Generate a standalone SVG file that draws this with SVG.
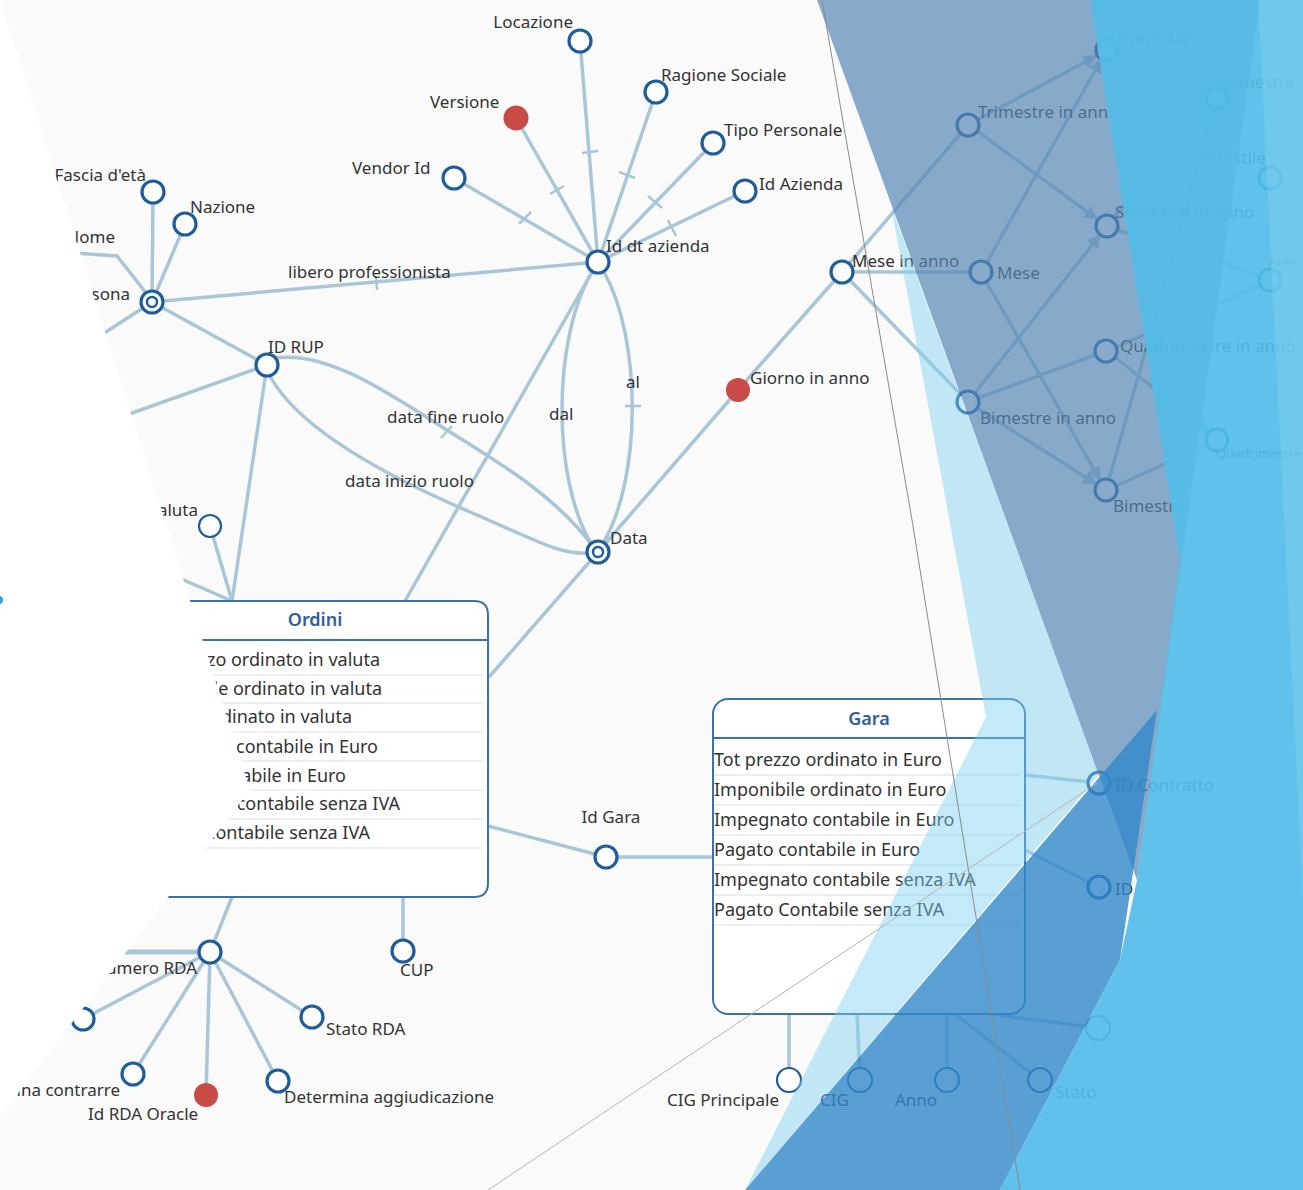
<svg xmlns="http://www.w3.org/2000/svg" width="1303" height="1190" viewBox="0 0 1303 1190">
<style>
.e{fill:none;stroke:#A9C6D8;stroke-width:3.5;stroke-linecap:round}
.tk{stroke:#A9C6D8;stroke-width:2.5}
.n{fill:#fff;stroke:#1F5C9C;stroke-width:3.2}
.r{fill:#C84B47}
.t{font-family:"Noto Sans","Open Sans",sans-serif;font-size:17px;fill:#333}
.row{font-family:"Noto Sans","Open Sans",sans-serif;font-size:18px;fill:#333}
.f{font-family:"Noto Sans","Open Sans",sans-serif;font-size:13px;fill:#333}
.h{font-family:"Noto Sans","Open Sans",sans-serif;font-size:18px;font-weight:600;fill:#2F5E9E}
.box{fill:#fff;stroke:#3A70AE;stroke-width:2}
.sep{stroke:#D6E1EB;stroke-width:1.2}
.hl{stroke:#3A70AE;stroke-width:2}
.a{marker-end:url(#arr)}
</style>
<defs>
<marker id="arr" viewBox="0 0 10 10" refX="9" refY="5" markerWidth="4" markerHeight="4" orient="auto"><path d="M0,0 L10,5 L0,10 z" fill="#A9C6D8"/></marker>
</defs>
<rect x="0" y="0" width="1303" height="1190" fill="#FAFAFA"/>

<g id="connectors">
<line class="e" x1="598" y1="262" x2="580" y2="41"/>
<line class="e" x1="598" y1="262" x2="656" y2="92"/>
<line class="e" x1="598" y1="262" x2="516" y2="118"/>
<line class="e" x1="598" y1="262" x2="713" y2="143"/>
<line class="e" x1="598" y1="262" x2="454" y2="178"/>
<line class="e" x1="598" y1="262" x2="745" y2="191"/>
<line class="e" x1="598" y1="262" x2="152" y2="302"/>
<line class="e" x1="592" y1="272" x2="405" y2="601"/>
<path class="e" d="M592,272 C552,340 552,480 592,545"/>
<path class="e" d="M604,272 C642,340 642,480 602,545"/>
<line class="e" x1="152" y1="302" x2="153" y2="192"/>
<line class="e" x1="152" y1="302" x2="185" y2="224"/>
<polyline class="e" points="60,252 117,256 150,298"/>
<line class="e" x1="152" y1="302" x2="60" y2="362"/>
<line class="e" x1="152" y1="302" x2="267" y2="365"/>
<line class="e" x1="267" y1="365" x2="90" y2="428"/>
<line class="e" x1="267" y1="365" x2="232" y2="601"/>
<path class="e" d="M275,358 C330,350 395,398 450,432 S560,500 594,548"/>
<path class="e" d="M270,376 C300,432 400,482 470,512 S560,555 590,553"/>
<line class="e" x1="210" y1="526" x2="232" y2="601"/>
<line class="e" x1="110" y1="548" x2="232" y2="601"/>
<line class="e" x1="598" y1="552" x2="738" y2="390"/>
<line class="e" x1="738" y1="390" x2="842" y2="272"/>
<line class="e" x1="598" y1="552" x2="490" y2="676"/>
<line class="e" x1="842" y1="272" x2="968" y2="125"/>
<line class="e" x1="842" y1="272" x2="981" y2="272"/>
<line class="e" x1="842" y1="272" x2="968" y2="402"/>
<line class="e a" x1="977" y1="120" x2="1096" y2="56"/>
<line class="e a" x1="977" y1="131" x2="1097" y2="219"/>
<line class="e a" x1="987" y1="262" x2="1101" y2="60"/>
<line class="e a" x1="987" y1="283" x2="1100" y2="480"/>
<line class="e a" x1="975" y1="393" x2="1100" y2="235"/>
<line class="e a" x1="977" y1="408" x2="1096" y2="484"/>
<line class="e" x1="978" y1="398" x2="1095" y2="355"/>
<line class="e a" x1="1117" y1="54" x2="1206" y2="93"/>
<line class="e a" x1="1114" y1="217" x2="1209" y2="107"/>
<line class="e a" x1="1109" y1="479" x2="1214" y2="110"/>
<line class="e a" x1="1116" y1="358" x2="1208" y2="432"/>
<line class="e a" x1="1116" y1="486" x2="1206" y2="445"/>
<line class="e" x1="1117" y1="230" x2="1262" y2="276"/>
<line class="e" x1="1116" y1="347" x2="1262" y2="285"/>
<line class="e" x1="488" y1="826" x2="606" y2="857"/>
<line class="e" x1="606" y1="857" x2="713" y2="857"/>
<line class="e" x1="232" y1="897" x2="210" y2="952"/>
<line class="e" x1="403" y1="897" x2="403" y2="951"/>
<line class="e" x1="120" y1="952" x2="200" y2="952" style="stroke-width:5"/>
<line class="e" x1="210" y1="952" x2="83" y2="1019"/>
<line class="e" x1="210" y1="952" x2="133" y2="1074"/>
<line class="e" x1="210" y1="952" x2="206" y2="1095"/>
<line class="e" x1="210" y1="952" x2="278" y2="1081"/>
<line class="e" x1="210" y1="952" x2="312" y2="1017"/>
<line class="e" x1="789" y1="1014" x2="789" y2="1080"/>
<line class="e" x1="857" y1="1014" x2="860" y2="1080"/>
<line class="e" x1="947" y1="1014" x2="947" y2="1080"/>
<line class="e" x1="955" y1="1014" x2="1040" y2="1080"/>
<line class="e" x1="990" y1="1014" x2="1098" y2="1028"/>
<line class="e" x1="1025" y1="775" x2="1099" y2="783"/>
<line class="e" x1="1025" y1="850" x2="1099" y2="887"/>
<line class="tk" x1="519" y1="224" x2="531" y2="212"/>
<line class="tk" x1="550" y1="194" x2="564" y2="186"/>
<line class="tk" x1="582" y1="153" x2="598" y2="151"/>
<line class="tk" x1="619" y1="172" x2="635" y2="178"/>
<line class="tk" x1="648" y1="196" x2="662" y2="208"/>
<line class="tk" x1="668" y1="220" x2="676" y2="236"/>
<line class="tk" x1="376" y1="276" x2="377" y2="290"/>
<line class="tk" x1="625" y1="406" x2="641" y2="406"/>
<line class="tk" x1="441" y1="438" x2="452" y2="426"/>
</g>

<g id="locazione"><circle class="n" cx="580" cy="41" r="11"/><text class="t" x="573" y="28" text-anchor="end">Locazione</text></g>
<g id="ragione-sociale"><circle class="n" cx="656" cy="92" r="11"/><text class="t" x="661" y="81">Ragione Sociale</text></g>
<g id="versione"><circle class="r" cx="516" cy="118" r="12.5"/><text class="t" x="430" y="108">Versione</text></g>
<g id="tipo-personale"><circle class="n" cx="713" cy="143" r="11"/><text class="t" x="724" y="136">Tipo Personale</text></g>
<g id="vendor-id"><circle class="n" cx="454" cy="178" r="11"/><text class="t" x="352" y="174">Vendor Id</text></g>
<g id="id-azienda"><circle class="n" cx="745" cy="191" r="11"/><text class="t" x="759" y="190">Id Azienda</text></g>
<g id="id-dt-azienda"><circle class="n" cx="598" cy="262" r="11"/><text class="t" x="606" y="252">Id dt azienda</text></g>
<g id="fascia"><circle class="n" cx="153" cy="192" r="11"/><text class="t" x="146" y="181" text-anchor="end">Fascia d'età</text></g>
<g id="nazione"><circle class="n" cx="185" cy="224" r="11"/><text class="t" x="190" y="213">Nazione</text></g>
<g id="nome"><text class="t" x="115" y="243" text-anchor="end">Nome</text></g>
<g id="persona"><circle class="n" cx="152" cy="302" r="11"/><circle class="n" cx="152" cy="302" r="5" style="stroke-width:2.5"/><text class="t" x="130" y="300" text-anchor="end">Persona</text></g>
<g id="lbl-libero"><text class="t" x="288" y="278">libero professionista</text></g>
<g id="id-rup"><circle class="n" cx="267" cy="365" r="11"/><text class="t" x="268" y="353">ID RUP</text></g>
<g id="lbl-ruolo"><text class="t" x="387" y="423">data fine ruolo</text><text class="t" x="345" y="487">data inizio ruolo</text><text class="t" x="549" y="420">dal</text><text class="t" x="626" y="388">al</text></g>
<g id="data"><circle class="n" cx="598" cy="552" r="11"/><circle class="n" cx="598" cy="552" r="5" style="stroke-width:2.5"/><text class="t" x="610" y="544">Data</text></g>
<g id="giorno-in-anno"><circle class="r" cx="738" cy="390" r="12"/><text class="t" x="750" y="384">Giorno in anno</text></g>
<g id="mese-in-anno"><circle class="n" cx="842" cy="272" r="11"/><text class="t" x="852" y="267">Mese in anno</text></g>
<g id="mese"><circle class="n" cx="981" cy="272" r="11"/><text class="t" x="997" y="279">Mese</text></g>
<g id="trimestre-in-anno"><circle class="n" cx="968" cy="125" r="11"/><text class="t" x="978" y="118">Trimestre in anno</text></g>
<g id="trimestre"><circle class="n" cx="1107" cy="50" r="11"/><text class="t" x="1115" y="43">Trimestre</text></g>
<g id="semestre-in-anno"><circle class="n" cx="1107" cy="226" r="11"/><text class="t" x="1115" y="218">Semestre in anno</text></g>
<g id="quadrimestre-in-anno"><circle class="n" cx="1106" cy="351" r="11"/><text class="t" x="1120" y="352">Quadrimestre in anno</text></g>
<g id="bimestre-in-anno"><circle class="n" cx="968" cy="402" r="11"/><text class="t" x="980" y="424">Bimestre in anno</text></g>
<g id="bimestre"><circle class="n" cx="1106" cy="490" r="11"/><text class="t" x="1113" y="512">Bimestre</text></g>
<g id="semestre"><circle class="n" cx="1217" cy="98" r="11"/><text class="t" x="1220" y="88">Semestre</text></g>
<g id="bisestile"><circle class="n" cx="1270" cy="178" r="11"/><text class="t" x="1200" y="164">Bisestile</text></g>
<g id="anno-t"><circle class="n" cx="1270" cy="280" r="11"/><text class="f" x="1301" y="266" text-anchor="end">Anno</text></g>
<g id="quadrimestre"><circle class="n" cx="1217" cy="440" r="11"/><text class="f" x="1301" y="458" text-anchor="end">Quadrimestre</text></g>
<g id="valuta"><circle class="n" cx="210" cy="526" r="11" style="stroke-width:2.2"/><text class="t" x="198" y="516" text-anchor="end">Valuta</text></g>

<g id="ordini">
<path class="box" d="M100,601 H474 Q488,601 488,615 V883 Q488,897 474,897 H100"/>
<line class="hl" x1="100" y1="640" x2="488" y2="640"/>
<text class="h" x="315" y="626" text-anchor="middle">Ordini</text>
<line class="sep" x1="100" y1="675" x2="483" y2="675"/>
<line class="sep" x1="100" y1="703" x2="483" y2="703"/>
<line class="sep" x1="100" y1="732" x2="483" y2="732"/>
<line class="sep" x1="100" y1="761" x2="483" y2="761"/>
<line class="sep" x1="100" y1="790" x2="483" y2="790"/>
<line class="sep" x1="100" y1="819" x2="483" y2="819"/>
<line class="sep" x1="100" y1="848" x2="483" y2="848"/>
<text class="row" x="380" y="666" text-anchor="end">Tot prezzo ordinato in valuta</text>
<text class="row" x="382" y="695" text-anchor="end">Imponibile ordinato in valuta</text>
<text class="row" x="352" y="723" text-anchor="end">Impegnato ordinato in valuta</text>
<text class="row" x="378" y="753" text-anchor="end">Impegnato contabile in Euro</text>
<text class="row" x="346" y="782" text-anchor="end">Pagato contabile in Euro</text>
<text class="row" x="400" y="810" text-anchor="end">Impegnato contabile senza IVA</text>
<text class="row" x="370" y="839" text-anchor="end">Pagato Contabile senza IVA</text>
</g>

<g id="gara">
<rect class="box" x="713" y="699" width="312" height="315" rx="15"/>
<line class="hl" x1="713" y1="738" x2="1025" y2="738"/>
<text class="h" x="869" y="725" text-anchor="middle">Gara</text>
<line class="sep" x1="714" y1="775" x2="1020" y2="775"/>
<line class="sep" x1="714" y1="805" x2="1020" y2="805"/>
<line class="sep" x1="714" y1="835" x2="1020" y2="835"/>
<line class="sep" x1="714" y1="865" x2="1020" y2="865"/>
<line class="sep" x1="714" y1="895" x2="1020" y2="895"/>
<line class="sep" x1="714" y1="925" x2="1020" y2="925"/>
<text class="row" x="714" y="766">Tot prezzo ordinato in Euro</text>
<text class="row" x="714" y="796">Imponibile ordinato in Euro</text>
<text class="row" x="714" y="826">Impegnato contabile in Euro</text>
<text class="row" x="714" y="856">Pagato contabile in Euro</text>
<text class="row" x="714" y="886">Impegnato contabile senza IVA</text>
<text class="row" x="714" y="916">Pagato Contabile senza IVA</text>
</g>

<g id="id-gara"><circle class="n" cx="606" cy="857" r="11"/><text class="t" x="611" y="823" text-anchor="middle">Id Gara</text></g>
<g id="numero-rda"><circle class="n" cx="210" cy="952" r="11"/><text class="t" x="197" y="974" text-anchor="end">Numero RDA</text></g>
<g id="cup"><circle class="n" cx="403" cy="951" r="11"/><text class="t" x="400" y="976">CUP</text></g>
<g id="rda-left"><circle class="n" cx="83" cy="1019" r="11"/></g>
<g id="determina-contrarre"><circle class="n" cx="133" cy="1074" r="11"/><text class="t" x="120" y="1096" text-anchor="end">ina contrarre</text></g>
<g id="id-rda-oracle"><circle class="r" cx="206" cy="1095" r="12"/><text class="t" x="88" y="1120">Id RDA Oracle</text></g>
<g id="determina-aggiudicazione"><circle class="n" cx="278" cy="1081" r="11"/><text class="t" x="284" y="1103">Determina aggiudicazione</text></g>
<g id="stato-rda"><circle class="n" cx="312" cy="1017" r="11"/><text class="t" x="326" y="1035">Stato RDA</text></g>
<g id="cig-principale"><circle class="n" cx="789" cy="1080" r="12" style="stroke-width:2.2"/><text class="t" x="667" y="1106">CIG Principale</text></g>
<g id="cig"><circle class="n" cx="860" cy="1080" r="12" style="stroke-width:2.2"/><text class="t" x="820" y="1106">CIG</text></g>
<g id="anno"><circle class="n" cx="947" cy="1080" r="12" style="stroke-width:2.2"/><text class="t" x="895" y="1106">Anno</text></g>
<g id="stato"><circle class="n" cx="1040" cy="1080" r="12" style="stroke-width:2.2"/><text class="t" x="1055" y="1098">Stato</text></g>
<g id="nodo-faint"><circle class="n" cx="1098" cy="1028" r="12" style="stroke-width:2.2"/></g>
<g id="id-contratto"><circle class="n" cx="1099" cy="783" r="11"/><text class="t" x="1115" y="791">ID Contratto</text></g>
<g id="id-2"><circle class="n" cx="1099" cy="887" r="11"/><text class="t" x="1115" y="895">ID</text></g>

<g id="overlay">
<polygon points="0,0 250,790 0,1117" fill="#FFFFFF"/>
<circle cx="-1" cy="600" r="4" fill="#29A3E0"/>
<polygon points="891,206 1099,775 745,1190 986,717" fill="#7DD0F1" fill-opacity="0.45"/>
<polygon points="817,0 1260,0 1137,880" fill="#5788B5" fill-opacity="0.7"/>
<polygon points="745,1190 1157,710 1120,960 1000,1190" fill="#3288CA" fill-opacity="0.8"/>
<polygon points="1090,0 1303,0 1303,1190 1000,1190 1120,960 1137,880 1180,560" fill="#53BDE8" fill-opacity="0.92"/>
<polygon points="1258,0 1303,0 1303,900" fill="#8AD6F3" fill-opacity="0.35"/>
<polyline points="822,0 912,520 1020,1190" fill="none" stroke="#8A8A8A" stroke-width="1"/>
<line x1="488" y1="1190" x2="1097" y2="783" stroke="#B5B5B5" stroke-width="1"/>
</g>
</svg>
